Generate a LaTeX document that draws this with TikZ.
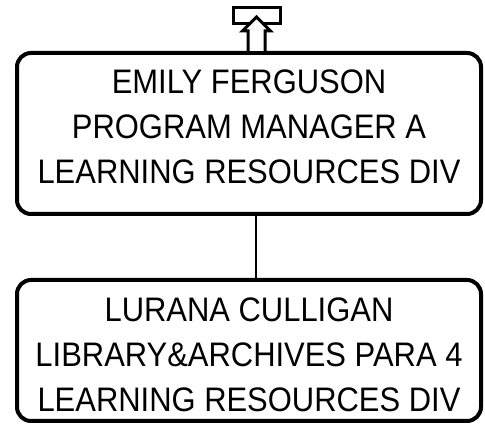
\documentclass[tikz,border=0pt]{standalone}
\usepackage{fontspec}
\setmainfont[FakeStretch=0.91]{Liberation Sans}
\usetikzlibrary{positioning,calc}

\begin{document}
\begin{tikzpicture}[x=1pt,y=1pt,
      every node/.style={font=\fontsize{34}{45}\selectfont},
      posbox/.style={rectangle,rounded corners=14pt,draw,line width=4pt,
                     minimum width=464pt,align=center,inner sep=0pt},
      link/.style={draw,line width=2pt},
      upmark/.style={draw,line width=3pt,fill=white,line join=miter}]
    \useasboundingbox (0,0) rectangle (485,426);
    \node[posbox,minimum height=161pt] (manager) at (249,292.5)
      {EMILY FERGUSON\\PROGRAM MANAGER A\\LEARNING RESOURCES DIV\rule[-14pt]{0pt}{0pt}};
    \node[posbox,minimum height=141pt] (para) at (249,75.5)
      {\rule{0pt}{32pt}LURANA CULLIGAN\\LIBRARY\&ARCHIVES PARA 4\\LEARNING RESOURCES DIV};
    \draw[link] ([xshift=7pt]manager.south) -- ([xshift=7pt]para.north);
    % up marker above the top box
    \node[draw,line width=3pt,minimum width=47pt,minimum height=16pt,inner sep=0pt]
      (upbox) at ([shift={(8pt,35.5pt)}]manager.north) {};
    \begin{scope}[shift={(manager.north)}]
      \draw[upmark] (-1,0) -- (-1,20) -- (-6.5,20) -- (7.5,34) -- (21.5,20)
        -- (16,20) -- (16,0);
    \end{scope}
\end{tikzpicture}
\end{document}
